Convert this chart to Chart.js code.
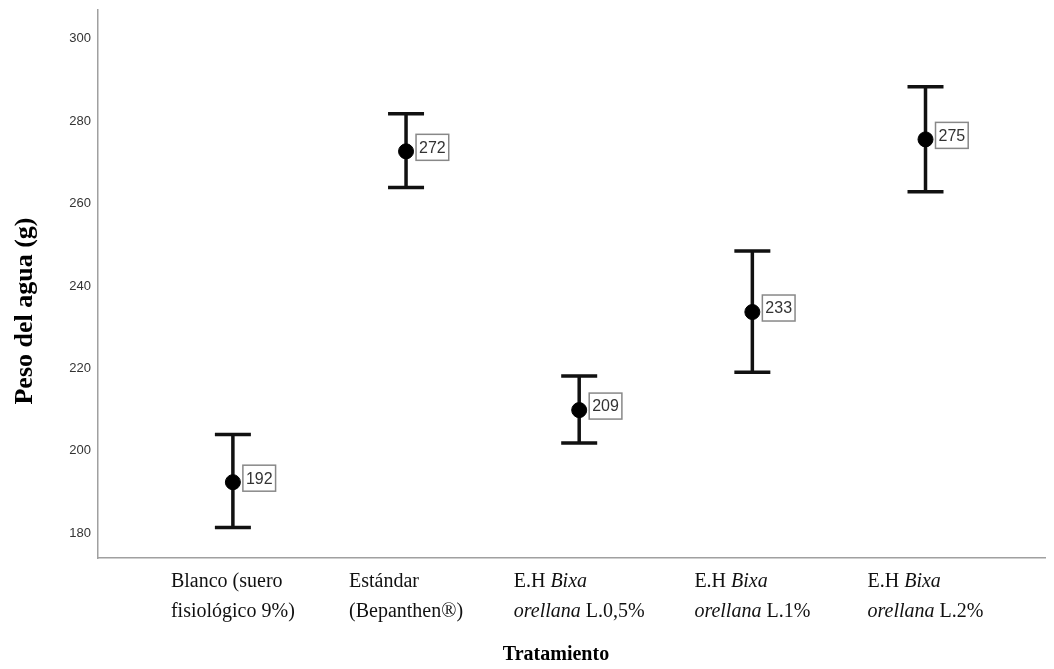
<!DOCTYPE html>
<html>
<head>
<meta charset="utf-8">
<script src="https://cdn.jsdelivr.net/npm/chart.js@4.4.1/dist/chart.umd.min.js"></script>
<style>
  html, body { margin: 0; padding: 0; background: #fff; }
  #wrap { width: 1054px; height: 669px; }
</style>
</head>
<body>
<div id="wrap"><canvas id="chart"></canvas></div>
<script>
// tick labels: two lines each, every line is a list of [text, italic]
var categoryLines = [
    [[['Blanco (suero', false]], [['fisiológico 9%)', false]]],
    [[['Estándar', false]], [['(Bepanthen®)', false]]],
    [[['E.H ', false], ['Bixa', true]], [['orellana', true], [' L.0,5%', false]]],
    [[['E.H ', false], ['Bixa', true]], [['orellana', true], [' L.1%', false]]],
    [[['E.H ', false], ['Bixa', true]], [['orellana', true], [' L.2%', false]]]
];
var positions = [0, 1, 2, 3, 4];
var means = [192.4, 272.7, 209.9, 233.7, 275.6];
var upperLimits = [204.0, 281.8, 218.2, 248.5, 288.4];
var lowerLimits = [181.4, 263.9, 201.9, 219.1, 262.9];
var meanLabels = ['192', '272', '209', '233', '275'];
var yTicks = [180, 200, 220, 240, 260, 280, 300];

var serif = '"Liberation Serif", "Times New Roman", serif';
var sans = '"Liberation Sans", Arial, sans-serif';

var errorBarPlugin = {
    id: 'errorBars',
    beforeDatasetsDraw: function(chart) {
        var ctx = chart.ctx;
        var xs = chart.scales.x, ys = chart.scales.y;
        ctx.save();
        ctx.strokeStyle = '#111';
        ctx.lineWidth = 3.5;
        for (var i = 0; i < positions.length; i++) {
            var x = xs.getPixelForValue(positions[i]);
            var yTop = ys.getPixelForValue(upperLimits[i]);
            var yBot = ys.getPixelForValue(lowerLimits[i]);
            ctx.beginPath();
            ctx.moveTo(x, yTop); ctx.lineTo(x, yBot);
            ctx.moveTo(x - 18, yTop); ctx.lineTo(x + 18, yTop);
            ctx.moveTo(x - 18, yBot); ctx.lineTo(x + 18, yBot);
            ctx.stroke();
        }
        ctx.restore();
    },
    afterDatasetsDraw: function(chart) {
        var ctx = chart.ctx;
        var xs = chart.scales.x, ys = chart.scales.y;
        ctx.save();
        ctx.font = '16px ' + sans;
        ctx.textBaseline = 'middle';
        for (var i = 0; i < positions.length; i++) {
            var x = xs.getPixelForValue(positions[i]) + 10;
            var y = ys.getPixelForValue(means[i]) - 4;
            var w = ctx.measureText(meanLabels[i]).width + 6;
            var h = 26;
            ctx.fillStyle = '#fff';
            ctx.fillRect(x, y - h / 2, w, h);
            ctx.strokeStyle = '#888';
            ctx.lineWidth = 1.5;
            ctx.strokeRect(x, y - h / 2, w, h);
            ctx.fillStyle = '#333';
            ctx.fillText(meanLabels[i], x + 3, y + 1);
        }
        ctx.restore();
    }
};

var textPlugin = {
    id: 'axisTexts',
    afterDraw: function(chart) {
        var ctx = chart.ctx;
        var xs = chart.scales.x;
        ctx.save();
        ctx.fillStyle = '#111';
        ctx.textBaseline = 'middle';
        ctx.textAlign = 'left';
        var lineY = [582, 612];
        for (var i = 0; i < categoryLines.length; i++) {
            var cx = xs.getPixelForValue(positions[i]);
            var widths = categoryLines[i].map(function(line) {
                var w = 0;
                line.forEach(function(seg) {
                    ctx.font = (seg[1] ? 'italic ' : '') + '20px ' + serif;
                    w += ctx.measureText(seg[0]).width;
                });
                return w;
            });
            var startX = cx - Math.max.apply(null, widths) / 2;
            categoryLines[i].forEach(function(line, j) {
                var px = startX;
                line.forEach(function(seg) {
                    ctx.font = (seg[1] ? 'italic ' : '') + '20px ' + serif;
                    ctx.fillText(seg[0], px, lineY[j]);
                    px += ctx.measureText(seg[0]).width;
                });
            });
        }

        ctx.fillStyle = '#000';
        ctx.textAlign = 'center';
        ctx.font = 'bold 20px ' + serif;
        ctx.fillText('Tratamiento', 556, 655);

        ctx.translate(25, 311);
        ctx.rotate(-Math.PI / 2);
        ctx.font = 'bold 26px ' + serif;
        ctx.fillText('Peso del agua (g)', 0, 0);
        ctx.restore();
    }
};

var ctx = document.getElementById('chart').getContext('2d');
var chart = new Chart(ctx, {
    type: 'scatter',
    data: {
        datasets: [{
            data: positions.map(function(p, i) { return { x: p, y: means[i] }; }),
            pointRadius: 7.5,
            pointHoverRadius: 7.5,
            pointBackgroundColor: '#000',
            pointBorderColor: '#000'
        }]
    },
    options: {
        responsive: true,
        maintainAspectRatio: false,
        animation: false,
        layout: { padding: { top: 10, right: 0, left: 0, bottom: 0 } },
        plugins: {
            legend: { display: false },
            tooltip: { enabled: false }
        },
        scales: {
            x: {
                type: 'linear',
                min: -0.779,
                max: 4.693,
                ticks: { display: false },
                grid: { display: false, drawTicks: false },
                border: { color: '#a0a0a0', width: 1.5 },
                afterFit: function(scale) {
                    scale.height = 111;
                    scale.paddingLeft = 0;
                    scale.paddingRight = 0;
                }
            },
            y: {
                min: 174,
                max: 307,
                afterBuildTicks: function(scale) {
                    scale.ticks = yTicks.map(function(v) { return { value: v }; });
                },
                ticks: {
                    font: { family: sans, size: 13 },
                    color: '#333',
                    padding: 7
                },
                grid: { display: false, drawTicks: false },
                border: { color: '#a0a0a0', width: 1.5 },
                afterFit: function(scale) {
                    scale.width = 98;
                    scale.paddingTop = 0;
                    scale.paddingBottom = 0;
                }
            }
        }
    },
    plugins: [errorBarPlugin, textPlugin]
});
</script>
</body>
</html>
